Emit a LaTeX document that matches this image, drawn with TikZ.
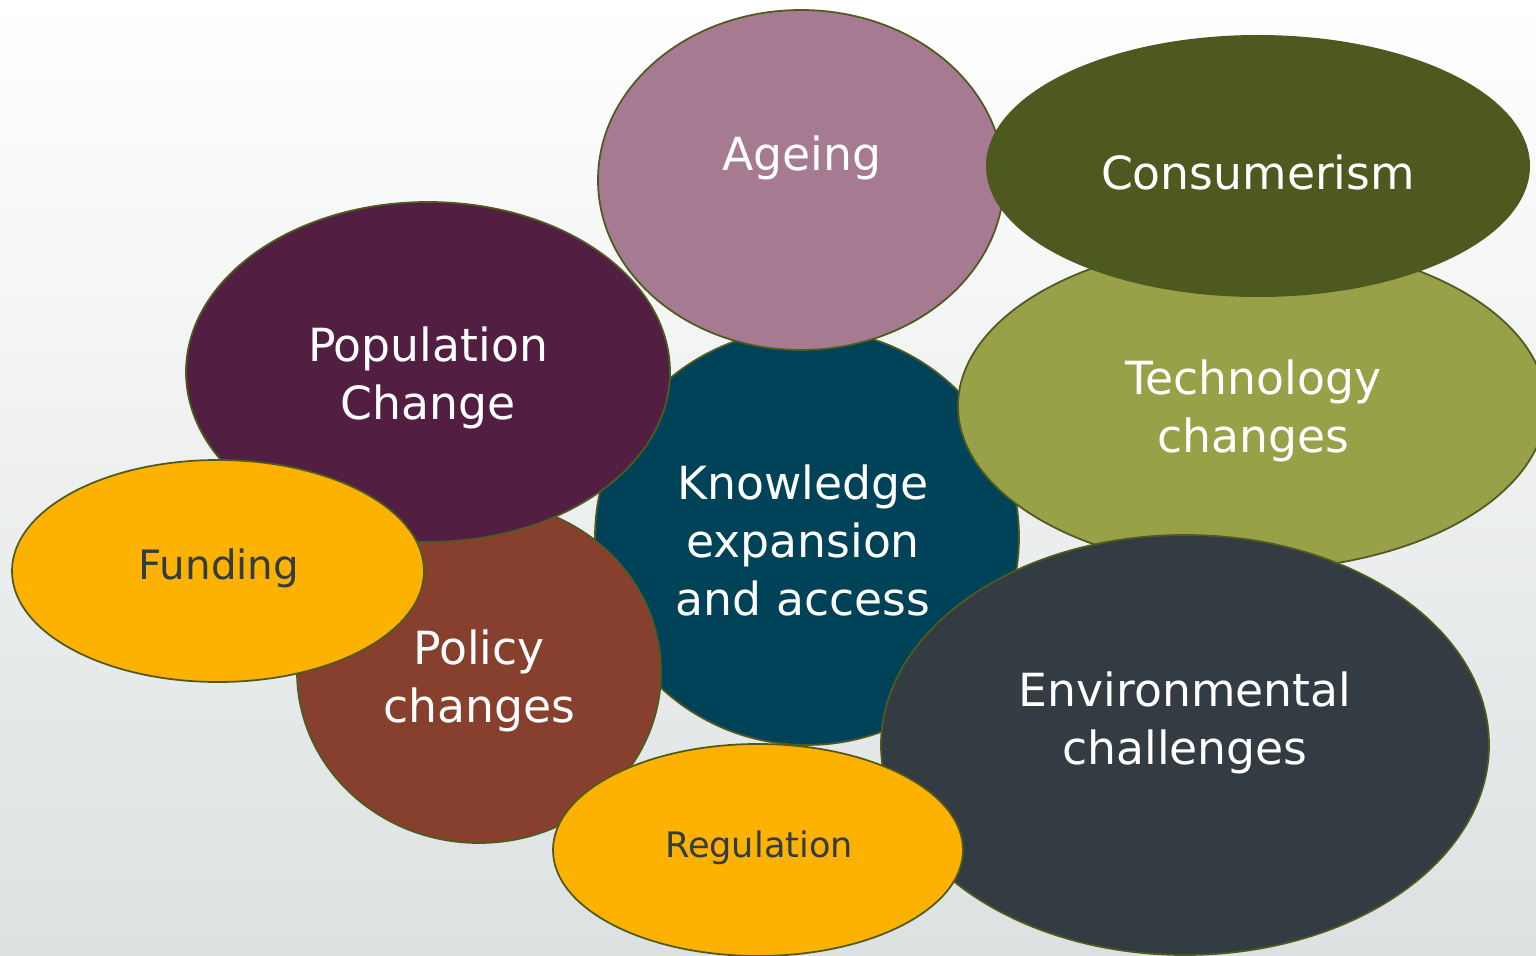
\documentclass[tikz,border=0pt]{standalone}
\usepackage{fontspec}
\setmainfont{DejaVu Sans}
\usepackage{tikz}
\usetikzlibrary{shapes.geometric}
\definecolor{rim}{RGB}{80,90,30}
\definecolor{ageingc}{RGB}{166,122,145}
\definecolor{consumc}{RGB}{78,89,32}
\definecolor{techc}{RGB}{152,160,72}
\definecolor{knowc}{RGB}{0,67,88}
\definecolor{popc}{RGB}{82,31,67}
\definecolor{policyc}{RGB}{135,64,46}
\definecolor{goldc}{RGB}{253,177,0}
\definecolor{envc}{RGB}{50,60,66}
\definecolor{bgbot}{RGB}{221,225,225}
\tikzset{
	bubble/.style={ellipse, draw=rim, line width=1pt, inner sep=0pt},
	blobsize/.style 2 args={minimum width=#1*0.02cm, minimum height=#2*0.02cm},
	caption/.style={text=white, align=center, font=\fontsize{26}{33}\selectfont},
	smallcap/.style={text=envc, align=center}
}

\begin{document}
\begin{tikzpicture}[x=0.02cm, y=-0.02cm]
		\useasboundingbox (0,0) rectangle (1536,956);
		\clip (0,0) rectangle (1536,956);
		\shade[top color=white, middle color=white, bottom color=bgbot] (0,0) rectangle (1536,956);

		\node[bubble, fill=knowc, blobsize={424}{416}] at (807,537) (know) {};
		\node[bubble, fill=techc, blobsize={588}{328}] at (1252,406) (tech) {};
		\node[bubble, fill=ageingc, blobsize={406}{340}] at (801,180) (age) {};
		\node[bubble, draw=none, fill=consumc, blobsize={544}{262}] at (1258,166) (cons) {};
		\node[bubble, fill=policyc, blobsize={364}{342}] at (479,672) (pol) {};
		\node[bubble, fill=popc, blobsize={484}{340}] at (428,372) (pop) {};
		\node[bubble, fill=goldc, blobsize={412}{222}] at (218,571) (fund) {};
		\node[bubble, fill=envc, blobsize={608}{420}] at (1185,745) (env) {};
		\node[bubble, fill=goldc, blobsize={410}{212}] at (758,850) (reg) {};

		\node[caption] at (802,158) (aget) {Ageing};
		\node[caption] at (1258,172) (const) {Consumerism};
		\node[caption] at (428,378) (popt) {Population\\Change};
		\node[caption] at (1253,411) (techt) {Technology\\changes};
		\node[caption] at (803,540) (knowt) {Knowledge\\expansion\\and access};
		\node[caption] at (479,681) (polt) {Policy\\changes};
		\node[caption] at (1185,723) (envt) {Environmental\\challenges};
		\node[smallcap, font=\fontsize{23}{28}\selectfont] at (219,568) (fundt) {Funding};
		\node[smallcap, font=\fontsize{20}{24}\selectfont] at (759,848) (regt) {Regulation};
	\end{tikzpicture}
\end{document}
